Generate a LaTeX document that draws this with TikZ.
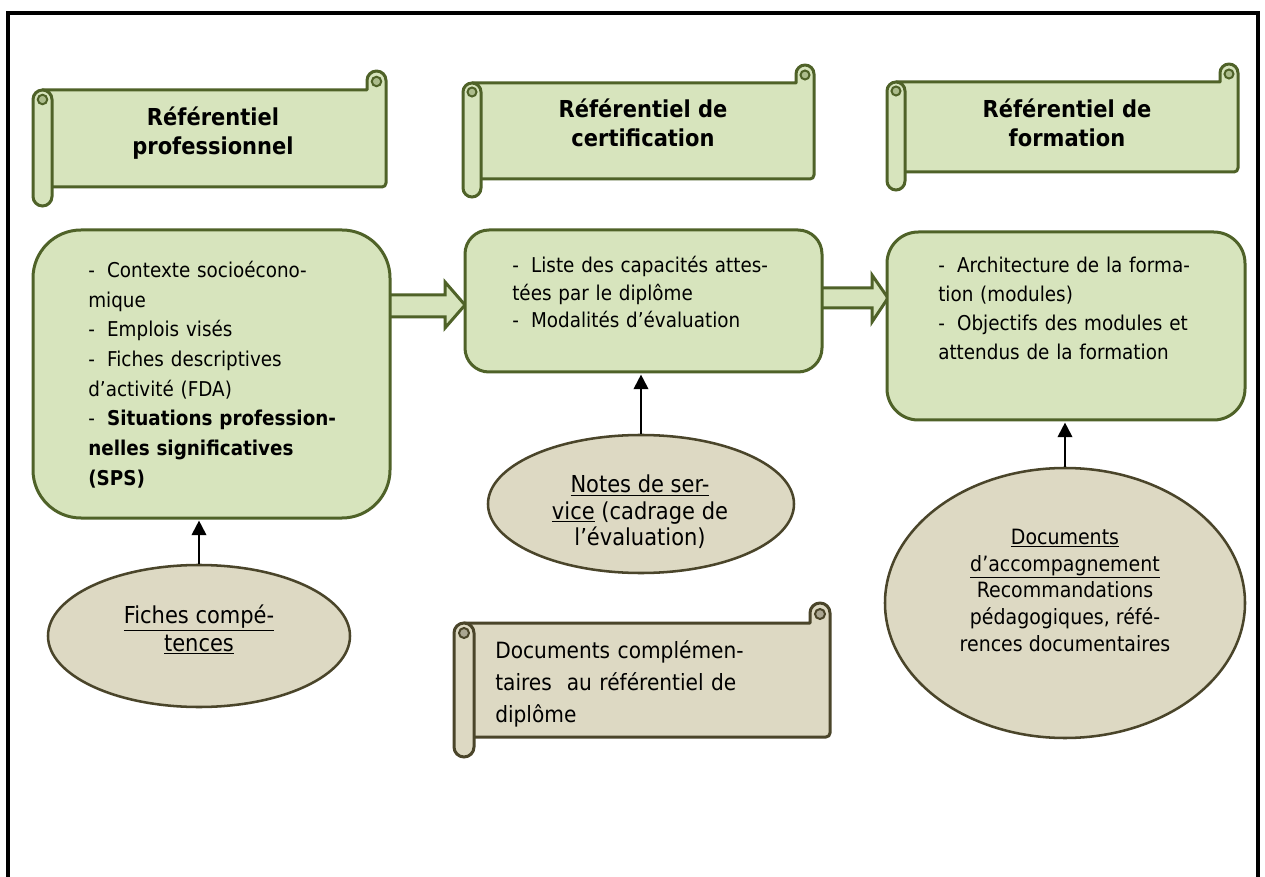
\documentclass[tikz,border=0pt]{standalone}
\usepackage{fontspec}
\setmainfont{DejaVu Sans}[FakeStretch=0.9]
\usetikzlibrary{shapes.geometric,arrows.meta}
\definecolor{gfill}{RGB}{215,228,189}
\definecolor{gdraw}{RGB}{79,98,40}
\definecolor{gcurl}{RGB}{172,188,140}
\definecolor{bfill}{RGB}{221,217,195}
\definecolor{bdraw}{RGB}{74,69,42}
\definecolor{bcurl}{RGB}{170,166,146}
% #1 L  #2 T  #3 R  #4 B  #5 roll size  #6 fill  #7 draw  #8 curl
\newcommand\myscroll[8]{%
 \filldraw[fill=#6,draw=#7,line width=2.25pt,line join=round]
  ({#1+#5/2},{#2+#5}) -- ({#3-#5},{#2+#5}) -- ({#3-#5},{#2+#5/2})
  arc[start angle=180,end angle=360,radius=#5/2]
  [rounded corners=3pt] -- (#3,{#4-#5}) -- ({#1+#5/2},{#4-#5}) [sharp corners] -- cycle;
 \filldraw[fill=#8,draw=#7,line width=1.5pt] ({#3-#5/2},{#2+#5/2+1}) circle[radius=#5/4];
 \filldraw[fill=#6,draw=#7,line width=2.25pt,rounded corners=#5*0.375pt] (#1,{#2+#5}) rectangle ({#1+#5},#4);
 \filldraw[fill=#8,draw=#7,line width=1.5pt] ({#1+#5/2},{#2+#5*1.5}) circle[radius=#5/4];
}
\begin{document}
\begin{tikzpicture}[x=0.75pt,y=-0.75pt,
  box/.style={draw=gdraw,fill=gfill,line width=2.25pt,inner sep=0pt},
  oval/.style={ellipse,draw=bdraw,fill=bfill,line width=1.9pt,inner sep=0pt},
  txt/.style={inner sep=0pt,anchor=north west,align=left},
  ctxt/.style={inner sep=0pt,anchor=north,align=center},
  ttl/.style={ctxt,font=\fontsize{17.5}{21.5}\selectfont\bfseries},
  conn/.style={line width=1.5pt,-{Triangle[width=11pt,length=11pt]},shorten >=0.8pt},
  barrow/.style={fill=gfill,draw=gdraw,line width=2.25pt,line join=miter}]
\useasboundingbox (0,0) rectangle (1265,877);
\fill[white] (0,0) rectangle (1265,877);
\draw[line width=2.4pt] (8,900) -- (8,13) -- (1258,13) -- (1258,900);

% scrolls
\myscroll{33}{71}{386}{206}{19}{gfill}{gdraw}{gcurl}
\myscroll{463}{65}{814}{197}{18}{gfill}{gdraw}{gcurl}
\myscroll{887}{64}{1238}{190}{18}{gfill}{gdraw}{gcurl}
\myscroll{454}{603}{830}{757}{20}{bfill}{bdraw}{bcurl}

\node[ttl] (h1) at (213,102) {\rule{0pt}{1em}Référentiel\\professionnel};
\node[ttl] (h2) at (643,94) {\rule{0pt}{1em}Référentiel de\\certification};
\node[ttl] (h3) at (1067,94) {\rule{0pt}{1em}Référentiel de\\formation};
\node[txt,font=\fontsize{16.8}{23.75}\selectfont,text width=300pt] (dc) at (495,636)
  {\rule{0pt}{1em}Documents complémen-\\taires~ au référentiel de\\diplôme};

% block arrows
\draw[barrow] (380,295) -- (445,295) -- (445,282) -- (465,305) -- (445,328) -- (445,317) -- (380,317);
\draw[barrow] (815,288) -- (872,288) -- (872,275) -- (888,298) -- (872,322) -- (872,308) -- (815,308);

% boxes
\node[box,rounded corners=36pt,minimum width=267.75pt,minimum height=216pt] (b1) at (211.5,374) {};
\node[box,rounded corners=18pt,minimum width=267.75pt,minimum height=106.5pt] (b2) at (643.5,301) {};
\node[box,rounded corners=23.5pt,minimum width=268.5pt,minimum height=141pt] (b3) at (1066,326) {};

\node[txt,font=\fontsize{15.3}{22.25}\selectfont,text width=300pt] (t1) at (88,257)
  {\rule{0pt}{1em}-\hspace{0.6em}Contexte socioécono-\\mique\\-\hspace{0.6em}Emplois visés\\-\hspace{0.6em}Fiches descriptives\\d’activité (FDA)\\-\hspace{0.6em}\textbf{Situations profession-}\\\textbf{nelles significatives}\\\textbf{(SPS)}};
\node[txt,font=\fontsize{15.3}{20.6}\selectfont,text width=300pt] (t2) at (512,252)
  {\rule{0pt}{1em}-\hspace{0.6em}Liste des capacités attes-\\tées par le diplôme\\-\hspace{0.6em}Modalités d’évaluation};
\node[txt,font=\fontsize{15.3}{21.8}\selectfont,text width=300pt] (t3) at (938,252)
  {\rule{0pt}{1em}-\hspace{0.6em}Architecture de la forma-\\tion (modules)\\-\hspace{0.6em}Objectifs des modules et\\attendus de la formation};

% ellipses
\node[oval,minimum width=226.5pt,minimum height=106.5pt] (e1) at (199,636) {};
\node[oval,minimum width=229.5pt,minimum height=103.5pt] (e2) at (641,504) {};
\node[oval,minimum width=270pt,minimum height=202.5pt] (e3) at (1065,603) {};

\node[ctxt,font=\fontsize{17.5}{20.6}\selectfont] (et1) at (199,600)
  {\rule{0pt}{1em}\underline{Fiches compé-}\\\underline{tences}};
\node[ctxt,font=\fontsize{17.5}{20}\selectfont] (et2) at (640,469)
  {\rule{0pt}{1em}\underline{Notes de ser-}\\\underline{vice} (cadrage de\\l’évaluation)};
\node[ctxt,font=\fontsize{15.8}{20}\selectfont] (et3) at (1065,523)
  {\rule{0pt}{1em}\underline{Documents}\\\underline{d’accompagnement}\\Recommandations\\pédagogiques, réfé-\\rences documentaires};

% connectors
\draw[conn] (e1.north) -- (e1.north |- b1.south);
\draw[conn] (e2.north) -- (e2.north |- b2.south);
\draw[conn] (e3.north) -- (e3.north |- b3.south);
\end{tikzpicture}
\end{document}
